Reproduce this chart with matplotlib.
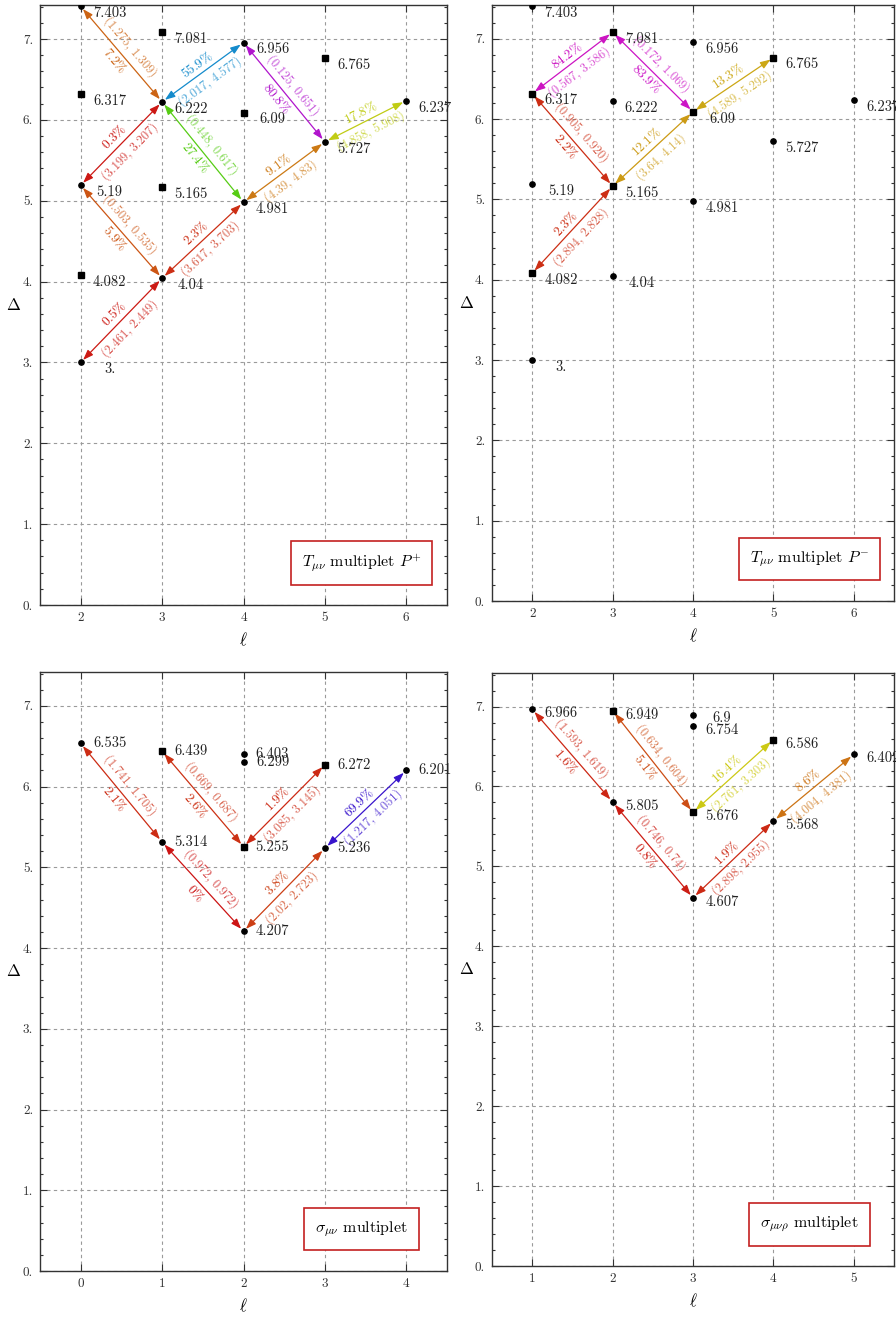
import colorsys
import numpy as np
import matplotlib
matplotlib.use('Agg')
import matplotlib.pyplot as plt
from matplotlib.ticker import MultipleLocator

plt.rcParams['font.family'] = 'serif'
plt.rcParams['font.serif'] = ['cmr10', 'DejaVu Serif']
plt.rcParams['mathtext.fontset'] = 'cm'
plt.rcParams['axes.unicode_minus'] = False
plt.rcParams['axes.formatter.use_mathtext'] = True

# --- T_mu nu multiplet P+ ---
tp_circ_l = [2, 3, 4, 2, 4, 3, 2, 5, 6]
tp_circ_d = [7.403, 6.222, 6.956, 5.19, 4.981, 4.04, 3.0, 5.727, 6.237]
tp_sq_l = [3, 2, 4, 3, 2, 5]
tp_sq_d = [7.081, 6.317, 6.09, 5.165, 4.082, 6.765]
tp_arrows = [(2, 7.403, 3, 6.222), (3, 6.222, 4, 6.956), (2, 5.19, 3, 6.222),
             (3, 6.222, 4, 4.981), (4, 6.956, 5, 5.727), (5, 5.727, 6, 6.237),
             (4, 4.981, 5, 5.727), (2, 5.19, 3, 4.04), (3, 4.04, 4, 4.981),
             (2, 3.0, 3, 4.04)]
tp_pct = [7.2, 55.9, 0.3, 27.4, 80.8, 17.8, 9.1, 5.9, 2.3, 0.5]
tp_pairs = ['(1.275, 1.309)', '(2.017, 4.577)', '(3.199, 3.207)', '(0.448, 0.617)',
            '(0.125, 0.651)', '(4.858, 5.908)', '(4.39, 4.83)', '(0.503, 0.535)',
            '(3.617, 3.703)', '(2.461, 2.449)']

# --- T_mu nu multiplet P- ---
tm_circ_l = [2, 4, 3, 2, 5, 4, 3, 2, 6]
tm_circ_d = [7.403, 6.956, 6.222, 5.19, 5.727, 4.981, 4.04, 3.0, 6.237]
tm_sq_l = [3, 2, 4, 5, 3, 2]
tm_sq_d = [7.081, 6.317, 6.09, 6.765, 5.165, 4.082]
tm_arrows = [(2, 6.317, 3, 7.081), (3, 7.081, 4, 6.09), (2, 6.317, 3, 5.165),
             (3, 5.165, 4, 6.09), (4, 6.09, 5, 6.765), (2, 4.082, 3, 5.165)]
tm_pct = [84.2, 83.9, 2.2, 12.1, 13.3, 2.3]
tm_pairs = ['(0.567, 3.586)', '(0.172, 1.069)', '(0.905, 0.920)', '(3.64, 4.14)',
            '(4.589, 5.292)', '(2.894, 2.828)']

# --- sigma_mu nu multiplet ---
s2_circ_l = [0, 1, 2, 2, 2, 3, 4]
s2_circ_d = [6.535, 5.314, 6.403, 6.299, 4.207, 5.236, 6.201]
s2_sq_l = [1, 2, 3]
s2_sq_d = [6.439, 5.255, 6.272]
s2_arrows = [(0, 6.535, 1, 5.314), (1, 6.439, 2, 5.255), (2, 5.255, 3, 6.272),
             (1, 5.314, 2, 4.207), (2, 4.207, 3, 5.236), (3, 5.236, 4, 6.201)]
s2_pct = [2.1, 2.6, 1.9, 0, 3.8, 69.9]
s2_pairs = ['(1.741, 1.705)', '(0.669, 0.687)', '(3.085, 3.145)', '(0.972, 0.972)',
            '(2.02, 2.723)', '(1.217, 4.051)']

# --- sigma_mu nu rho multiplet ---
s3_circ_l = [1, 2, 3, 3, 3, 4, 5]
s3_circ_d = [6.966, 5.805, 6.9, 6.754, 4.607, 5.568, 6.402]
s3_sq_l = [2, 3, 4]
s3_sq_d = [6.949, 5.676, 6.586]
s3_arrows = [(1, 6.966, 2, 5.805), (2, 6.949, 3, 5.676), (2, 5.805, 3, 4.607),
             (3, 4.607, 4, 5.568), (3, 5.676, 4, 6.586), (4, 5.568, 5, 6.402)]
s3_pct = [1.6, 5.1, 0.8, 1.9, 16.4, 8.6]
s3_pairs = ['(1.593, 1.619)', '(0.634, 0.604)', '(0.746, 0.74)', '(2.898, 2.955)',
            '(2.761, 3.303)', '(4.004, 4.381)']

y_ticks = [0, 1, 2, 3, 4, 5, 6, 7]
y_ticklabels = ['0.', '1.', '2.', '3.', '4.', '5.', '6.', '7.']


def fmt(v):
    return f'{v:.3f}'.rstrip('0')


def hue_color(p):
    return colorsys.hsv_to_rgb(p / 100.0, 0.9, 0.8)


def panel(ax, circ_l, circ_d, sq_l, sq_d, arrows, pct, pairs, xlim, xticks, label_dy, title):
    ax.set_xlim(*xlim)
    ax.set_ylim(0, 7.42)
    ax.set_xticks(xticks)
    ax.set_xticklabels([str(t) for t in xticks])
    ax.set_yticks(y_ticks)
    ax.set_yticklabels(y_ticklabels)
    ax.yaxis.set_minor_locator(MultipleLocator(0.2))
    ax.tick_params(which='both', direction='in', top=True, right=True,
                   labelsize=9.5, width=0.8, color='#333333', labelcolor='#333333')
    ax.tick_params(which='major', length=5, pad=5)
    ax.tick_params(which='minor', length=2.5)
    ax.grid(True, which='major', ls=(0, (3, 3)), color='#9a9a9a', lw=0.8)
    ax.set_axisbelow(True)
    for s in ax.spines.values():
        s.set_linewidth(1.0)
        s.set_color('#333333')
    ax.set_xlabel(r'$\ell$', fontsize=12, va='center')
    ax.set_ylabel(r'$\Delta$', fontsize=12, rotation=0, va='center', ha='center')
    ax.xaxis.set_label_coords(0.5, -0.058)
    ax.yaxis.set_label_coords(-0.064, 0.5)

    for (l1, d1, l2, d2), p, pair in zip(arrows, pct, pairs):
        c = hue_color(p)
        ax.annotate('', xy=(l2, d2), xytext=(l1, d1),
                    arrowprops=dict(arrowstyle='<|-|>,head_length=0.6,head_width=0.22',
                                    color=c, lw=0.9, shrinkA=2.5, shrinkB=2.5), zorder=3)
        a = ax.transData.transform((l1, d1))
        b = ax.transData.transform((l2, d2))
        ang = np.degrees(np.arctan2(b[1] - a[1], b[0] - a[0]))
        if ang > 90:
            ang -= 180
        elif ang < -90:
            ang += 180
        nx, ny = -np.sin(np.radians(ang)), np.cos(np.radians(ang))
        side = 1 if ang > 0 else -1
        mid = ((l1 + l2) / 2, (d1 + d2) / 2)
        ax.annotate(r'$\mathbf{' + f'{p:g}' + r'\%}$', mid,
                    xytext=(side * 9.5 * nx, side * 9.5 * ny), textcoords='offset pixels',
                    rotation=ang, rotation_mode='anchor', ha='center', va='center',
                    fontsize=9.5, color=c, zorder=4)
        ax.annotate(pair, mid,
                    xytext=(-side * 11.5 * nx, -side * 11.5 * ny), textcoords='offset pixels',
                    rotation=ang, rotation_mode='anchor', ha='center', va='center',
                    fontsize=9, color=c, alpha=0.75, zorder=4)

    ax.plot(circ_l, circ_d, 'o', color='black', ms=3.8, zorder=5)
    ax.plot(sq_l, sq_d, 's', color='black', ms=4.2, zorder=5)
    for l, d in list(zip(circ_l, circ_d)) + list(zip(sq_l, sq_d)):
        ax.annotate(fmt(d), (l, d), xytext=(29, -label_dy), textcoords='offset pixels',
                    ha='center', va='center', fontsize=10.5, color='#222222', zorder=6)

    ax.text(0.79, 0.07, title, transform=ax.transAxes, ha='center', va='center',
            fontsize=11.5, zorder=7,
            bbox=dict(boxstyle='square,pad=0.7', fc='white', ec='#c42020', lw=1.2))


fig = plt.figure(figsize=(8.96, 13.18), dpi=100)
W, H = 896.0, 1318.0
ax1 = fig.add_axes([40 / W, 713 / H, 407 / W, 600 / H])
ax2 = fig.add_axes([492 / W, 717 / H, 402 / W, 596 / H])
ax3 = fig.add_axes([40 / W, 47 / H, 407 / W, 599 / H])
ax4 = fig.add_axes([492 / W, 52 / H, 402 / W, 593 / H])

panel(ax1, tp_circ_l, tp_circ_d, tp_sq_l, tp_sq_d, tp_arrows, tp_pct, tp_pairs,
      (1.5, 6.5), [2, 3, 4, 5, 6], 7, r'$T_{\mu\nu}$ multiplet $P^{+}$')
panel(ax2, tm_circ_l, tm_circ_d, tm_sq_l, tm_sq_d, tm_arrows, tm_pct, tm_pairs,
      (1.5, 6.5), [2, 3, 4, 5, 6], 7, r'$T_{\mu\nu}$ multiplet $P^{-}$')
panel(ax3, s2_circ_l, s2_circ_d, s2_sq_l, s2_sq_d, s2_arrows, s2_pct, s2_pairs,
      (-0.5, 4.5), [0, 1, 2, 3, 4], 0, r'$\sigma_{\mu\nu}$ multiplet')
panel(ax4, s3_circ_l, s3_circ_d, s3_sq_l, s3_sq_d, s3_arrows, s3_pct, s3_pairs,
      (0.5, 5.5), [1, 2, 3, 4, 5], 4, r'$\sigma_{\mu\nu\rho}$ multiplet')

fig.savefig('out.png', dpi=100)
